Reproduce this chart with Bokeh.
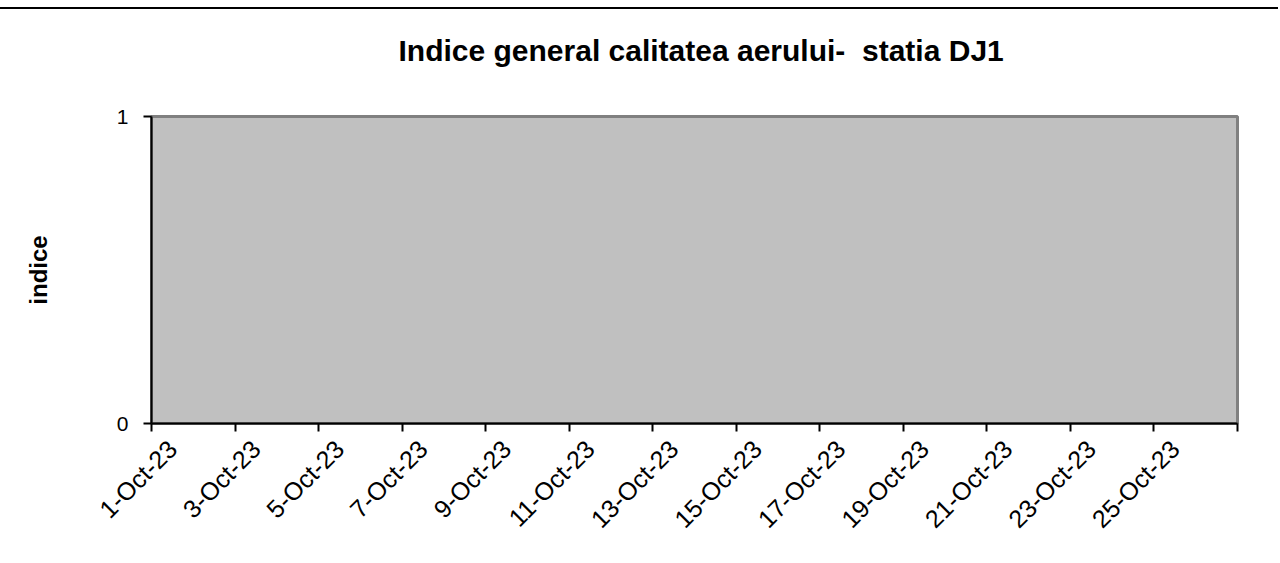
import math
from bokeh.plotting import figure
from bokeh.models import Range1d, FixedTicker, ColumnDataSource, Title
from bokeh.embed import file_html
from bokeh.resources import INLINE

# ---- data ----
dates = ["1-Oct-23", "2-Oct-23", "3-Oct-23", "4-Oct-23", "5-Oct-23", "6-Oct-23",
         "7-Oct-23", "8-Oct-23", "9-Oct-23", "10-Oct-23", "11-Oct-23", "12-Oct-23",
         "13-Oct-23", "14-Oct-23", "15-Oct-23", "16-Oct-23", "17-Oct-23", "18-Oct-23",
         "19-Oct-23", "20-Oct-23", "21-Oct-23", "22-Oct-23", "23-Oct-23", "24-Oct-23",
         "25-Oct-23", "26-Oct-23"]
nan = float("nan")
indice_values = [nan, nan, nan, nan, nan, nan, nan, nan, nan, nan, nan, nan, nan,
                 nan, nan, nan, nan, nan, nan, nan, nan, nan, nan, nan, nan, nan]
y_ticks = [0, 1]
title_text = "Indice general calitatea aerului-\u00a0\u00a0statia DJ1"
y_label = "indice"

n = len(dates)
centers = [i + 0.5 for i in range(n)]
label_pos = [centers[i] for i in range(0, n, 2)]
boundaries = [i for i in range(0, n + 1, 2)]

p = figure(width=1278, height=548, output_backend="svg", toolbar_location=None,
           x_range=Range1d(0, n), y_range=Range1d(0, 1), title=None,
           min_border_left=151, min_border_right=41, min_border_top=107,
           min_border_bottom=134)
p.styles = {"border-top": "2px solid #000000", "margin-top": "7px"}

# spacer between the frame and the title (closest to the frame)
spacer = Title(text="\u00a0", text_font_size="10px", standoff=37)
p.add_layout(spacer, "above")
main_title = Title(text=title_text, align="left", offset=247, standoff=0,
                   text_font="Liberation Sans", text_font_style="bold",
                   text_font_size="30px", text_color="black")
p.add_layout(main_title, "above")

p.background_fill_color = "#C0C0C0"
p.border_fill_color = "white"
p.outline_line_color = "#808080"
p.outline_line_width = 3
p.xgrid.visible = False
p.ygrid.visible = False

src = ColumnDataSource(dict(x=centers, y=indice_values))
p.line("x", "y", source=src, line_color="#000080", line_width=2)

# x axis: labels on category centres, tick marks on boundaries
xa = p.xaxis[0]
xa.ticker = FixedTicker(ticks=label_pos, minor_ticks=boundaries)
xa.major_label_overrides = {pos: dates[i * 2] for i, pos in enumerate(label_pos)}
xa.major_tick_out = 0
xa.major_tick_in = 0
xa.minor_tick_out = 8
xa.minor_tick_in = 0
xa.minor_tick_line_color = "black"
xa.minor_tick_line_width = 2
xa.axis_line_color = "black"
xa.axis_line_width = 2
xa.major_label_orientation = math.pi / 4
xa.major_label_text_font = "Liberation Sans"
xa.major_label_text_font_size = "25px"
xa.major_label_text_color = "black"
xa.major_label_standoff = 13

ya = p.yaxis[0]
ya.ticker = FixedTicker(ticks=y_ticks)
ya.major_tick_out = 8
ya.major_tick_in = 0
ya.minor_tick_line_color = None
ya.major_tick_line_width = 2
ya.major_tick_line_color = "black"
ya.axis_line_color = "black"
ya.axis_line_width = 2
ya.major_label_text_font = "Liberation Sans"
ya.major_label_text_font_size = "21px"
ya.major_label_text_color = "black"
ya.major_label_standoff = 15
ya.axis_label = y_label
ya.axis_label_text_font = "Liberation Sans"
ya.axis_label_text_font_style = "bold"
ya.axis_label_text_font_size = "24px"
ya.axis_label_text_color = "black"
ya.axis_label_standoff = 62

open("out.html", "w").write(file_html(p, INLINE))
